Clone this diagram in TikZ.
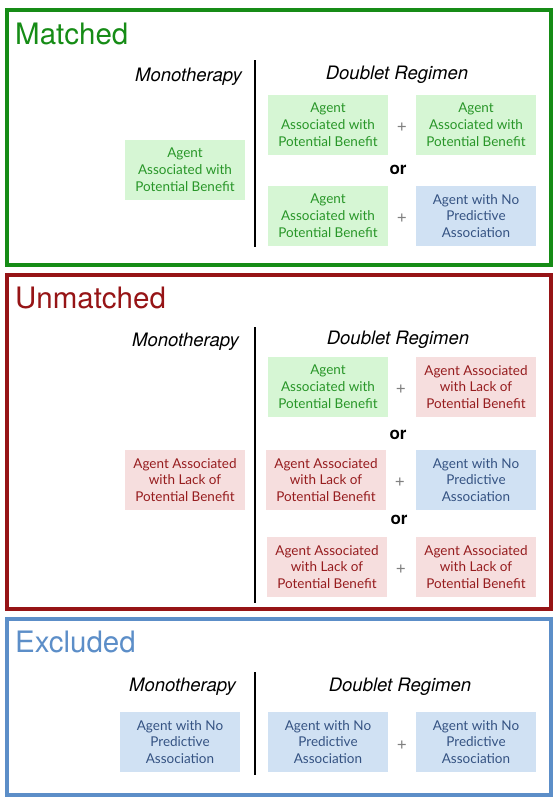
\documentclass[tikz,border=0pt]{standalone}
\usepackage{fontspec}
\setmainfont{TeX Gyre Heros}
\newfontfamily\agentfont{Lato}

\definecolor{matchcol}{RGB}{22,140,22}
\definecolor{unmatchcol}{RGB}{150,20,22}
\definecolor{exclcol}{RGB}{92,142,200}
\definecolor{goodfill}{RGB}{214,246,212}
\definecolor{goodtext}{RGB}{40,150,40}
\definecolor{lackfill}{RGB}{246,222,222}
\definecolor{lacktext}{RGB}{150,28,30}
\definecolor{nofill}{RGB}{208,225,243}
\definecolor{notext}{RGB}{52,82,130}

\tikzset{
  agent/.style={minimum width=120pt, minimum height=60pt, inner sep=0pt, align=center,
    font=\agentfont\fontsize{13.5}{16.8}\selectfont},
  good/.style={agent, fill=goodfill, text=goodtext},
  lack/.style={agent, fill=lackfill, text=lacktext},
  noassoc/.style={agent, fill=nofill, text=notext},
  frame/.style={line width=3.2pt},
  title/.style={anchor=west, inner sep=0pt, font=\fontsize{29.5}{30}\selectfont},
  head/.style={inner sep=0pt, font=\itshape\fontsize{18.5}{20}\selectfont},
  plus/.style={text=black!50, font=\fontsize{18}{18}\selectfont},
  ortext/.style={font=\bfseries\fontsize{17}{18}\selectfont},
  divider/.style={line width=1.6pt}
}

\newcommand{\goodtxt}{Agent\\Associated with\\Potential Benefit}
\newcommand{\lacktxt}{Agent Associated\\with Lack of\\Potential Benefit}
\newcommand{\notxt}{Agent with No\\Predictive\\Association}

\begin{document}
\begin{tikzpicture}[x=1pt, y=-1pt]
  \useasboundingbox (0,0) rectangle (557,803);

  % Matched
  \draw[frame, matchcol] (7,10) rectangle (551,265);
  \node[title, text=matchcol] (tmatch) at (15,34) {Matched};
  \node[head, anchor=east] (mono1) at (242,77) {Monotherapy};
  \node[head] (dbl1) at (397,75) {Doublet Regimen};
  \coordinate (d1top) at (255,60);
  \coordinate (d1bot) at (255,247);
  \draw[divider] (d1top) -- (d1bot);
  \node[good] (m1) at (185,170) {\goodtxt};
  \node[good] (a11) at (328,125) {\goodtxt};
  \node[plus] (p11) at (402,127) {+};
  \node[good] (b11) at (476,125) {\goodtxt};
  \node[ortext] (or11) at (398,170) {or};
  \node[good] (a12) at (328,216) {\goodtxt};
  \node[plus] (p12) at (402,218) {+};
  \node[noassoc] (b12) at (476,216) {\notxt};

  % Unmatched
  \draw[frame, unmatchcol] (7,275) rectangle (551,609);
  \node[title, text=unmatchcol] (tunmatch) at (15,298) {Unmatched};
  \node[head, anchor=east] (mono2) at (239,342) {Monotherapy};
  \node[head] (dbl2) at (398,340) {Doublet Regimen};
  \coordinate (d2top) at (255,327);
  \coordinate (d2bot) at (255,603);
  \draw[divider] (d2top) -- (d2bot);
  \node[lack] (m2) at (185,480) {\lacktxt};
  \node[good] (a21) at (328,387) {\goodtxt};
  \node[plus] (p21) at (401,389) {+};
  \node[lack] (b21) at (476,387) {\lacktxt};
  \node[ortext] (or21) at (398,435) {or};
  \node[lack] (a22) at (326,480) {\lacktxt};
  \node[plus] (p22) at (400,482) {+};
  \node[noassoc] (b22) at (476,480) {\notxt};
  \node[ortext] (or22) at (399,520) {or};
  \node[lack] (a23) at (327,567) {\lacktxt};
  \node[plus] (p23) at (401,569) {+};
  \node[lack] (b23) at (476,567) {\lacktxt};

  % Excluded
  \draw[frame, exclcol] (7,619) rectangle (551,795);
  \node[title, text=exclcol] (texcl) at (15,642) {Excluded};
  \node[head, anchor=east] (mono3) at (236,687) {Monotherapy};
  \node[head] (dbl3) at (400,687) {Doublet Regimen};
  \coordinate (d3top) at (255,672);
  \coordinate (d3bot) at (255,775);
  \draw[divider] (d3top) -- (d3bot);
  \node[noassoc] (m3) at (180,742) {\notxt};
  \node[noassoc] (a31) at (328,742) {\notxt};
  \node[plus] (p31) at (402,745) {+};
  \node[noassoc] (b31) at (476,742) {\notxt};
\end{tikzpicture}
\end{document}
